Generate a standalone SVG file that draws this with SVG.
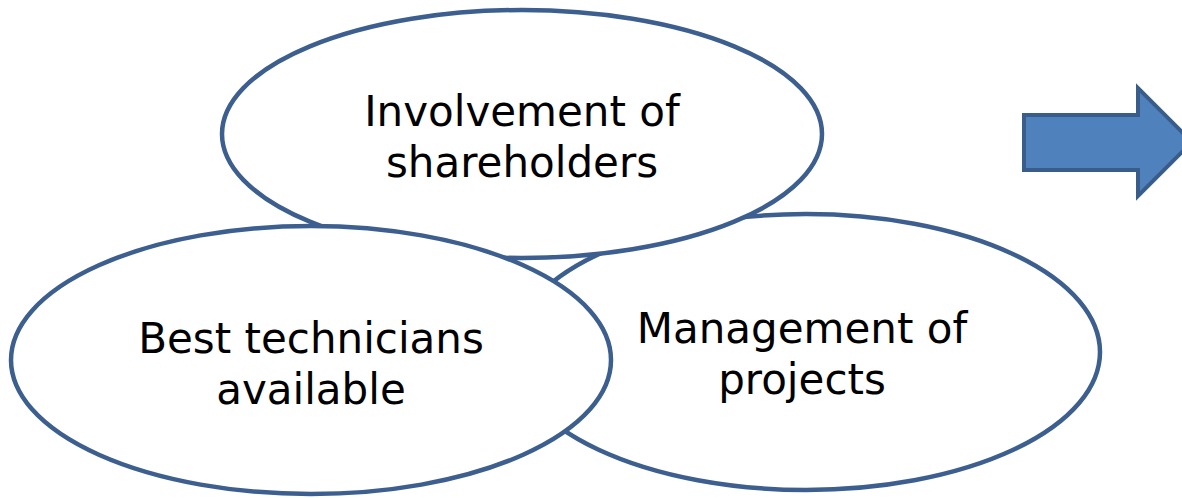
<svg xmlns="http://www.w3.org/2000/svg" width="1182" height="498" viewBox="0 0 1182 498">
<style>
.e{fill:#fff;stroke:#3C5F8F;stroke-width:4.5}
.t{font-family:"DejaVu Sans",Verdana,sans-serif;font-size:42px;fill:#000;text-anchor:middle}
</style>
<rect width="1182" height="498" fill="#fff"/>
<g id="management">
<ellipse class="e" cx="806" cy="352" rx="294" ry="138"/>
<text class="t" x="802" y="343">Management of</text>
<text class="t" x="802" y="394">projects</text>
</g>
<g id="involvement">
<ellipse class="e" cx="522" cy="134" rx="300" ry="124"/>
<text class="t" x="522" y="126">Involvement of</text>
<text class="t" x="522" y="177">shareholders</text>
</g>
<g id="best">
<ellipse class="e" cx="311" cy="360" rx="300" ry="134"/>
<text class="t" x="311" y="353">Best technicians</text>
<text class="t" x="311" y="404">available</text>
</g>
<g id="arrow">
<path d="M1024,115 H1138 V88 L1192,142 L1138,196 V170 H1024 Z" fill="#4F81BD" stroke="#385D8A" stroke-width="4"/>
</g>
<g id="connectors"/>
</svg>
